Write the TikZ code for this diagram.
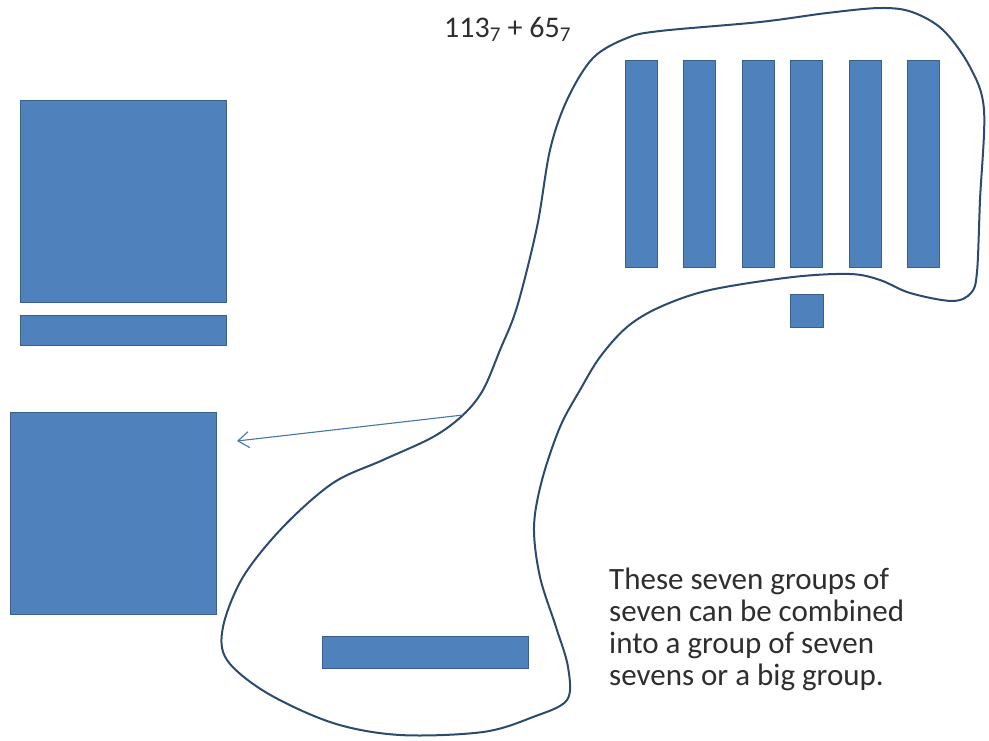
\documentclass[tikz,border=0pt]{standalone}
\usepackage{fontspec}
\setmainfont{Carlito}
\usetikzlibrary{arrows.meta,positioning}
\definecolor{blkfill}{HTML}{4F81BD}
\definecolor{blkline}{HTML}{3A5F8C}
\definecolor{loopline}{HTML}{2C4A6E}
\definecolor{txtgray}{HTML}{2E2E2E}

\begin{document}
\begin{tikzpicture}[x=1pt,y=-1pt,
  blk/.style={draw=blkline,fill=blkfill,line width=1.2pt,inner sep=0pt,anchor=north west},
  txt/.style={text=txtgray,inner sep=0pt,font=\fontsize{31}{32}\selectfont}]
\useasboundingbox (0,0) rectangle (989,740);

% left side
\node[blk,minimum width=206pt,minimum height=202pt] (sqa) at (20,100) {};
\node[blk,minimum width=206pt,minimum height=30pt] (bara) at (20,315) {};
\node[blk,minimum width=206pt,minimum height=202pt] (sqb) at (10,412) {};

% sevens and the one
\foreach \x [count=\i] in {625,683,742,790,849,907}
  \node[blk,minimum width=32pt,minimum height=207pt] (s\i) at (\x,60) {};
\node[blk,minimum width=33pt,minimum height=33pt] (one) at (790,294) {};
\node[blk,minimum width=206pt,minimum height=32pt] (barb) at (322,636) {};

% loop round the groups
\draw[loopline,line width=2pt] plot[smooth cycle,tension=0.55] coordinates {
  (567,100) (593,58) (627,38) (660,31) (760,22) (827,13) (880,8) (912,12)
  (943,30) (970,67) (984,110) (980,200) (977,272) (971,293) (952,301)
  (910,293) (880,280) (850,274) (793,277) (710,290) (660,307) (627,327)
  (600,357) (580,390) (560,427) (542,480) (534,527) (540,577) (556,627)
  (568,667) (567,700) (533,717) (483,732) (400,735) (333,723) (267,693)
  (227,660) (223,627) (243,577) (283,527) (333,483) (383,460) (433,437)
  (463,415) (483,390) (500,350) (517,307) (537,227) (550,150)};

\coordinate (neck) at (463,415);
\coordinate (tip) at (237,441);
\draw[-{Straight Barb[length=11pt,width=16pt]},draw=blkfill!90!black,line width=1.1pt] (neck) -- (tip);

\node[txt,anchor=base west,font=\fontsize{30}{32}\selectfont] (sum) at (444,37)
  {113\textsubscript{7} + 65\textsubscript{7}};
\node[txt,anchor=north west,align=left] (note) at (609,568)
  {These seven groups of\\seven can be combined\\into a group of seven\\sevens or a big group.};
\end{tikzpicture}
\end{document}
